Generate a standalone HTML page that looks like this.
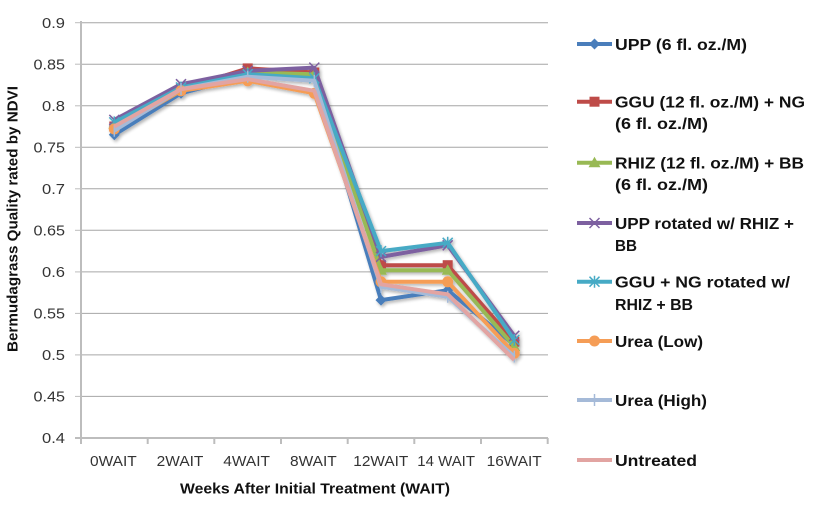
<!DOCTYPE html>
<html><head><meta charset="utf-8"><style>
html,body{margin:0;padding:0;background:#fff;}
svg{display:block;}
text{font-family:"Liberation Sans",Arial,sans-serif;}
</style></head><body>
<svg width="820" height="506" viewBox="0 0 820 506" xmlns="http://www.w3.org/2000/svg">
<defs>
<filter id="sh" x="-10%" y="-10%" width="130%" height="130%">
<feGaussianBlur in="SourceAlpha" stdDeviation="1.5"/>
<feOffset dx="1.5" dy="2" result="b"/>
<feComponentTransfer><feFuncA type="linear" slope="0.3"/></feComponentTransfer>
<feMerge><feMergeNode/><feMergeNode in="SourceGraphic"/></feMerge>
</filter>
<g id="dia"><path d="M0,-5.5 L5.5,0 L0,5.5 L-5.5,0 Z" fill="#4A7EBB"/></g>
<g id="sq"><rect x="-5" y="-5" width="10" height="10" fill="#BE4B48"/></g>
<g id="tri"><path d="M0,-6 L6,4.5 L-6,4.5 Z" fill="#98B954"/></g>
<g id="xx"><path d="M-5,-5 L5,5 M-5,5 L5,-5" stroke="#7D60A0" stroke-width="1.5"/></g>
<g id="ast"><path d="M-5,-5 L5,5 M-5,5 L5,-5 M0,-6 L0,6" stroke="#46AAC5" stroke-width="1.5"/></g>
<g id="cir"><circle r="5.5" fill="#F59D56"/></g>
<g id="pl"><path d="M0,-6 L0,6" stroke="#A5BAD8" stroke-width="1.5"/></g>
</defs>
<rect width="820" height="506" fill="#fff"/>
<!-- gridlines -->
<g stroke="#A6A6A6" stroke-width="1">
<line x1="81" x2="548" y1="22.7" y2="22.7"/>
<line x1="81" x2="548" y1="64.2" y2="64.2"/>
<line x1="81" x2="548" y1="105.8" y2="105.8"/>
<line x1="81" x2="548" y1="147.3" y2="147.3"/>
<line x1="81" x2="548" y1="188.8" y2="188.8"/>
<line x1="81" x2="548" y1="230.3" y2="230.3"/>
<line x1="81" x2="548" y1="271.9" y2="271.9"/>
<line x1="81" x2="548" y1="313.4" y2="313.4"/>
<line x1="81" x2="548" y1="354.9" y2="354.9"/>
<line x1="81" x2="548" y1="396.4" y2="396.4"/>
</g>
<!-- axes -->
<g stroke="#BDBDBD" stroke-width="2">
<line x1="81" x2="81" y1="21" y2="439"/>
<line x1="75" x2="548" y1="438" y2="438"/>
<line x1="81" x2="81" y1="438" y2="444"/>
<line x1="147.7" x2="147.7" y1="438" y2="444"/>
<line x1="214.3" x2="214.3" y1="438" y2="444"/>
<line x1="281" x2="281" y1="438" y2="444"/>
<line x1="347.7" x2="347.7" y1="438" y2="444"/>
<line x1="414.3" x2="414.3" y1="438" y2="444"/>
<line x1="481" x2="481" y1="438" y2="444"/>
<line x1="547.7" x2="547.7" y1="438" y2="444"/>
</g>
<g stroke="#BDBDBD" stroke-width="1">
<line x1="75" x2="81" y1="22.7" y2="22.7"/><line x1="75" x2="81" y1="64.2" y2="64.2"/><line x1="75" x2="81" y1="105.8" y2="105.8"/><line x1="75" x2="81" y1="147.3" y2="147.3"/><line x1="75" x2="81" y1="188.8" y2="188.8"/><line x1="75" x2="81" y1="230.3" y2="230.3"/><line x1="75" x2="81" y1="271.9" y2="271.9"/><line x1="75" x2="81" y1="313.4" y2="313.4"/><line x1="75" x2="81" y1="354.9" y2="354.9"/><line x1="75" x2="81" y1="396.4" y2="396.4"/>
</g>
<!-- y tick labels -->
<g font-size="14.5" fill="#333" text-anchor="end" lengthAdjust="spacingAndGlyphs">
<text x="65" y="28" textLength="23" lengthAdjust="spacingAndGlyphs">0.9</text>
<text x="65" y="69.5" textLength="31.5" lengthAdjust="spacingAndGlyphs">0.85</text>
<text x="65" y="111" textLength="23" lengthAdjust="spacingAndGlyphs">0.8</text>
<text x="65" y="152.5" textLength="31.5" lengthAdjust="spacingAndGlyphs">0.75</text>
<text x="65" y="194" textLength="23" lengthAdjust="spacingAndGlyphs">0.7</text>
<text x="65" y="235.5" textLength="31.5" lengthAdjust="spacingAndGlyphs">0.65</text>
<text x="65" y="277" textLength="23" lengthAdjust="spacingAndGlyphs">0.6</text>
<text x="65" y="318.5" textLength="31.5" lengthAdjust="spacingAndGlyphs">0.55</text>
<text x="65" y="360" textLength="23" lengthAdjust="spacingAndGlyphs">0.5</text>
<text x="65" y="401.5" textLength="31.5" lengthAdjust="spacingAndGlyphs">0.45</text>
<text x="65" y="443" textLength="23" lengthAdjust="spacingAndGlyphs">0.4</text>
</g>
<!-- x tick labels -->
<g font-size="14.5" fill="#333">
<text x="90" y="466" textLength="46.7" lengthAdjust="spacingAndGlyphs">0WAIT</text>
<text x="156.7" y="466" textLength="46.7" lengthAdjust="spacingAndGlyphs">2WAIT</text>
<text x="223.3" y="466" textLength="46.7" lengthAdjust="spacingAndGlyphs">4WAIT</text>
<text x="290" y="466" textLength="46.7" lengthAdjust="spacingAndGlyphs">8WAIT</text>
<text x="353.3" y="466" textLength="55" lengthAdjust="spacingAndGlyphs">12WAIT</text>
<text x="417.3" y="466" textLength="57.7" lengthAdjust="spacingAndGlyphs">14 WAIT</text>
<text x="486.7" y="466" textLength="55" lengthAdjust="spacingAndGlyphs">16WAIT</text>
</g>
<!-- axis titles -->
<text x="180" y="493.5" font-size="14.5" font-weight="bold" fill="#111" textLength="270" lengthAdjust="spacingAndGlyphs">Weeks After Initial Treatment (WAIT)</text>
<text transform="translate(17.5,352) rotate(-90)" x="0" y="0" font-size="14.5" font-weight="bold" fill="#111" textLength="266" lengthAdjust="spacingAndGlyphs">Bermudagrass Quality rated by NDVI</text>
<!-- series -->
<g fill="none" stroke-width="4" stroke-linejoin="round" filter="url(#sh)">
<polyline stroke="#4A7EBB" points="114.3,134.8 181,93.3 247.7,75.9 314.3,76.7 381,300.1 447.7,290.2 514.3,345"/>
<g><use href="#dia" x="114.3" y="134.8"/><use href="#dia" x="181" y="93.3"/><use href="#dia" x="247.7" y="75.9"/><use href="#dia" x="314.3" y="76.7"/><use href="#dia" x="381" y="300.1"/><use href="#dia" x="447.7" y="290.2"/><use href="#dia" x="514.3" y="345"/></g>
<polyline stroke="#BE4B48" points="114.3,126.5 181,89.1 247.7,68.4 314.3,72.5 381,265.2 447.7,265.2 514.3,341.7"/>
<g><use href="#sq" x="114.3" y="126.5"/><use href="#sq" x="181" y="89.1"/><use href="#sq" x="247.7" y="68.4"/><use href="#sq" x="314.3" y="72.5"/><use href="#sq" x="381" y="265.2"/><use href="#sq" x="447.7" y="265.2"/><use href="#sq" x="514.3" y="341.7"/></g>
<polyline stroke="#98B954" points="114.3,124 181,87.5 247.7,72.5 314.3,74.2 381,270.2 447.7,270.2 514.3,346.6"/>
<g><use href="#tri" x="114.3" y="124"/><use href="#tri" x="181" y="87.5"/><use href="#tri" x="247.7" y="72.5"/><use href="#tri" x="314.3" y="74.2"/><use href="#tri" x="381" y="270.2"/><use href="#tri" x="447.7" y="270.2"/><use href="#tri" x="514.3" y="346.6"/></g>
<polyline stroke="#7D60A0" points="114.3,119.9 181,84.2 247.7,70.9 314.3,67.6 381,256.9 447.7,245.3 514.3,335.8"/>
<g><use href="#xx" x="114.3" y="119.9"/><use href="#xx" x="181" y="84.2"/><use href="#xx" x="247.7" y="70.9"/><use href="#xx" x="314.3" y="67.6"/><use href="#xx" x="381" y="256.9"/><use href="#xx" x="447.7" y="245.3"/><use href="#xx" x="514.3" y="335.8"/></g>
<polyline stroke="#46AAC5" points="114.3,122.4 181,87.5 247.7,74.2 314.3,78.3 381,251.1 447.7,242.8 514.3,340"/>
<g><use href="#ast" x="114.3" y="122.4"/><use href="#ast" x="181" y="87.5"/><use href="#ast" x="247.7" y="74.2"/><use href="#ast" x="314.3" y="78.3"/><use href="#ast" x="381" y="251.1"/><use href="#ast" x="447.7" y="242.8"/><use href="#ast" x="514.3" y="340"/></g>
<polyline stroke="#F59D56" points="114.3,129 181,90.8 247.7,80.8 314.3,93.3 381,281.8 447.7,281.8 514.3,353.3"/>
<g><use href="#cir" x="114.3" y="129"/><use href="#cir" x="181" y="90.8"/><use href="#cir" x="247.7" y="80.8"/><use href="#cir" x="314.3" y="93.3"/><use href="#cir" x="381" y="281.8"/><use href="#cir" x="447.7" y="281.8"/><use href="#cir" x="514.3" y="353.3"/></g>
<polyline stroke="#A5BAD8" points="114.3,130.7 181,89.1 247.7,76.7 314.3,80.8 381,286.8 447.7,296.8 514.3,356.6"/>
<g><use href="#pl" x="114.3" y="130.7"/><use href="#pl" x="181" y="89.1"/><use href="#pl" x="247.7" y="76.7"/><use href="#pl" x="314.3" y="80.8"/><use href="#pl" x="381" y="286.8"/><use href="#pl" x="447.7" y="296.8"/><use href="#pl" x="514.3" y="356.6"/></g>
<polyline stroke="#E2A4A2" points="114.3,126.5 181,89.1 247.7,79.2 314.3,90.8 381,284.3 447.7,294.3 514.3,359.9"/>
</g>
<!-- legend -->
<g stroke-width="4" fill="none">
<line x1="577" x2="612" y1="44" y2="44" stroke="#4A7EBB"/>
<line x1="577" x2="612" y1="101.7" y2="101.7" stroke="#BE4B48"/>
<line x1="577" x2="612" y1="162.7" y2="162.7" stroke="#98B954"/>
<line x1="577" x2="612" y1="223" y2="223" stroke="#7D60A0"/>
<line x1="577" x2="612" y1="281.7" y2="281.7" stroke="#46AAC5"/>
<line x1="577" x2="612" y1="341" y2="341" stroke="#F59D56"/>
<line x1="577" x2="612" y1="400" y2="400" stroke="#A5BAD8"/>
<line x1="577" x2="612" y1="460" y2="460" stroke="#E2A4A2"/>
</g>
<use href="#dia" x="594.5" y="44"/>
<use href="#sq" x="594.5" y="101.7"/>
<use href="#tri" x="594.5" y="162.7"/>
<use href="#xx" x="594.5" y="223"/>
<use href="#ast" x="594.5" y="281.7"/>
<use href="#cir" x="594.5" y="341"/>
<use href="#pl" x="594.5" y="400"/>
<g font-size="16" font-weight="bold" fill="#111">
<text x="615" y="50" textLength="132" lengthAdjust="spacingAndGlyphs">UPP (6 fl. oz./M)</text>
<text x="615" y="107.7" textLength="190" lengthAdjust="spacingAndGlyphs">GGU (12 fl. oz./M) + NG</text>
<text x="615" y="129" textLength="93" lengthAdjust="spacingAndGlyphs">(6 fl. oz./M)</text>
<text x="615" y="168.7" textLength="189" lengthAdjust="spacingAndGlyphs">RHIZ (12 fl. oz./M) + BB</text>
<text x="615" y="190" textLength="93" lengthAdjust="spacingAndGlyphs">(6 fl. oz./M)</text>
<text x="615" y="229" textLength="179" lengthAdjust="spacingAndGlyphs">UPP rotated w/ RHIZ +</text>
<text x="615" y="251" textLength="22" lengthAdjust="spacingAndGlyphs">BB</text>
<text x="615" y="287.7" textLength="175" lengthAdjust="spacingAndGlyphs">GGU + NG rotated w/</text>
<text x="615" y="310" textLength="78" lengthAdjust="spacingAndGlyphs">RHIZ + BB</text>
<text x="615" y="347" textLength="88" lengthAdjust="spacingAndGlyphs">Urea (Low)</text>
<text x="615" y="406" textLength="92" lengthAdjust="spacingAndGlyphs">Urea (High)</text>
<text x="615" y="466" textLength="82" lengthAdjust="spacingAndGlyphs">Untreated</text>
</g>
</svg>
</body></html>
